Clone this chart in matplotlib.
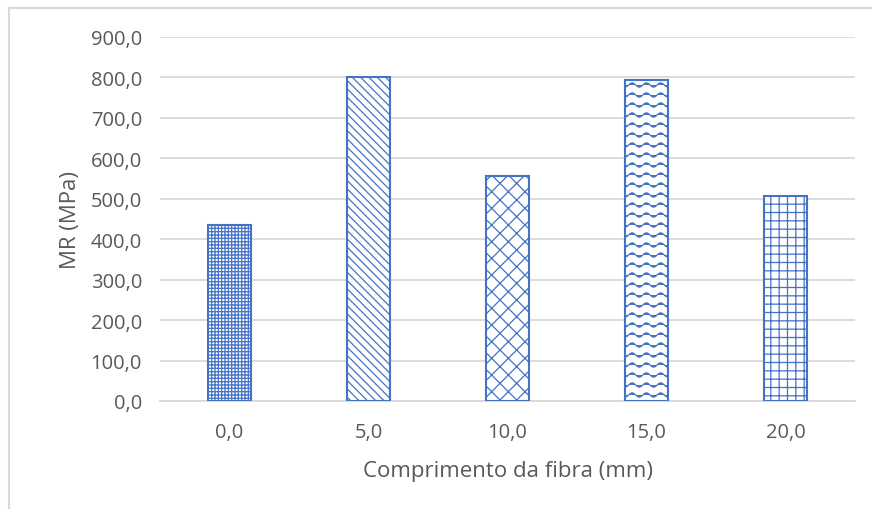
import warnings
import numpy as np
import matplotlib
matplotlib.use("Agg")
import matplotlib.pyplot as plt
from matplotlib import hatch as mhatch
from matplotlib.path import Path
from matplotlib.patches import Rectangle

warnings.filterwarnings("ignore")

# Fibre length categories and modulus of rupture
categories = ["0,0", "5,0", "10,0", "15,0", "20,0"]
mr_values = [436.0, 800.0, 556.0, 793.0, 506.0]
yticks = [0, 100, 200, 300, 400, 500, 600, 700, 800, 900]
hatches = ["+++++", "\\\\\\\\", "xx", "w", "++"]


class WaveHatch(mhatch.HatchPatternBase):
    """Rows of sine waves, selected with the 'w' hatch character."""

    def __init__(self, hatch, density):
        n = hatch.count("w")
        self.num_rows = n * 10 if n else 0
        self.periods = 7
        self.n_pts = self.periods * 8 + 1
        self.num_vertices = self.num_rows * self.n_pts

    def set_vertices_and_codes(self, vertices, codes):
        xs = np.linspace(0.0, 1.0, self.n_pts)
        amp = 0.22 / self.num_rows
        k = 0
        for r in range(self.num_rows):
            y0 = (r + 0.5) / self.num_rows
            ys = y0 + amp * np.sin(2 * np.pi * self.periods * xs)
            vertices[k:k + self.n_pts, 0] = xs
            vertices[k:k + self.n_pts, 1] = ys
            codes[k] = Path.MOVETO
            codes[k + 1:k + self.n_pts] = Path.LINETO
            k += self.n_pts


mhatch._hatch_types.append(WaveHatch)

blue = "#4472C4"
text_color = "#595959"
plt.rcParams["font.family"] = ["Open Sans", "DejaVu Sans"]
plt.rcParams["hatch.linewidth"] = 0.9

fig = plt.figure(figsize=(8.72, 5.10), dpi=100)
ax = fig.add_axes([160 / 872, 108 / 510, 695 / 872, 364 / 510])

x = np.arange(len(categories))
bars = ax.bar(x, mr_values, width=0.31, color="white", edgecolor=blue,
              linewidth=1.5, zorder=3)
for b, h in zip(bars, hatches):
    b.set_hatch(h)

ax.set_xlim(-0.5, len(categories) - 0.5)
ax.set_ylim(0, 900)
ax.set_yticks(yticks)
ax.set_yticklabels([f"{v:.1f}".replace(".", ",") for v in yticks])
ax.set_xticks(x)
ax.set_xticklabels(categories)

ax.grid(axis="y", color="#D9D9D9", linewidth=1.3, zorder=0)
for side in ["top", "right", "left"]:
    ax.spines[side].set_visible(False)
ax.spines["bottom"].set_color("#D9D9D9")
ax.spines["bottom"].set_linewidth(1.3)
ax.tick_params(axis="both", length=0, labelsize=14.5, labelcolor=text_color)
ax.tick_params(axis="y", pad=13)
ax.tick_params(axis="x", pad=15)

ax.set_ylabel("MR (MPa)", fontsize=16, color=text_color, labelpad=7)
ax.set_xlabel("Comprimento da fibra (mm)", fontsize=16, color=text_color,
              labelpad=13)

# Chart frame
fig.patches.append(Rectangle((9 / 872, -0.1), 2.0, 1.1 - 9 / 510,
                             transform=fig.transFigure, fill=False,
                             edgecolor="#D9D9D9", linewidth=1.5))

fig.savefig("out.png", dpi=100, facecolor="white")
